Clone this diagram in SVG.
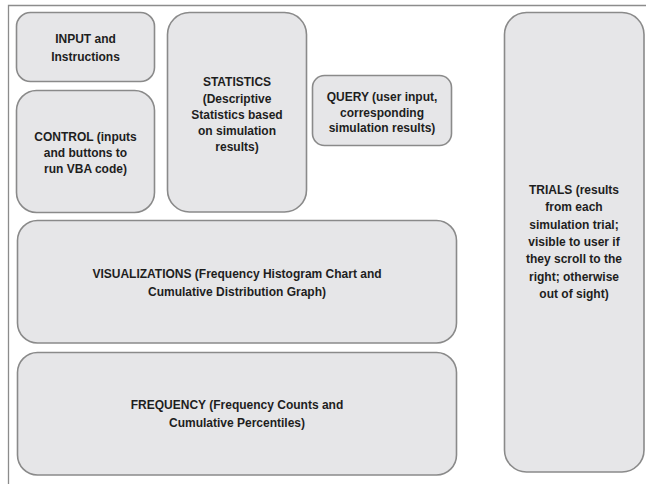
<svg xmlns="http://www.w3.org/2000/svg" width="646" height="484" viewBox="0 0 646 484">
<style>
.box{fill:#e6e6e8;stroke:#8a8a8a;stroke-width:1.6}
.t{font-family:"Liberation Sans",Arial,sans-serif;font-weight:bold;font-size:12px;fill:#1e1e1e;text-anchor:middle}
.frame{stroke:#8c8c8c;stroke-width:1.3;fill:none}
</style>
<rect width="646" height="484" fill="#ffffff"/>
<path class="frame" d="M8.5,484 V5.5 H646"/>
<g id="input">
<rect class="box" x="16.5" y="12.5" width="138" height="69" rx="14"/>
<text class="t" x="85.5" y="43">INPUT and</text>
<text class="t" x="85.5" y="61">Instructions</text>
</g>
<g id="control">
<rect class="box" x="16.5" y="90.5" width="138" height="122" rx="20"/>
<text class="t" x="85.5" y="141">CONTROL (inputs</text>
<text class="t" x="85.5" y="157">and buttons to</text>
<text class="t" x="85.5" y="173">run VBA code)</text>
</g>
<g id="statistics">
<rect class="box" x="167.5" y="12.5" width="139" height="199.5" rx="22"/>
<text class="t" x="237" y="86">STATISTICS</text>
<text class="t" x="237" y="103">(Descriptive</text>
<text class="t" x="237" y="119">Statistics based</text>
<text class="t" x="237" y="135">on simulation</text>
<text class="t" x="237" y="151">results)</text>
</g>
<g id="query">
<rect class="box" x="312.5" y="75.5" width="139" height="70" rx="12"/>
<text class="t" x="382" y="101">QUERY (user input,</text>
<text class="t" x="382" y="116.5">corresponding</text>
<text class="t" x="382" y="132">simulation results)</text>
</g>
<g id="trials">
<rect class="box" x="504.5" y="12.5" width="139.5" height="459.5" rx="22"/>
<text class="t" x="574" y="194">TRIALS (results</text>
<text class="t" x="574" y="211.3">from each</text>
<text class="t" x="574" y="228.6">simulation trial;</text>
<text class="t" x="574" y="246">visible to user if</text>
<text class="t" x="574" y="263.3">they scroll to the</text>
<text class="t" x="574" y="280.6">right; otherwise</text>
<text class="t" x="574" y="298">out of sight)</text>
</g>
<g id="visualizations">
<rect class="box" x="17.5" y="220.5" width="439" height="122.5" rx="20"/>
<text class="t" x="237" y="277.5">VISUALIZATIONS (Frequency Histogram Chart and</text>
<text class="t" x="237" y="295.5">Cumulative Distribution Graph)</text>
</g>
<g id="frequency">
<rect class="box" x="17.5" y="352.5" width="439" height="122.5" rx="20"/>
<text class="t" x="237" y="409">FREQUENCY (Frequency Counts and</text>
<text class="t" x="237" y="427">Cumulative Percentiles)</text>
</g>
<g id="connectors"></g>
</svg>
